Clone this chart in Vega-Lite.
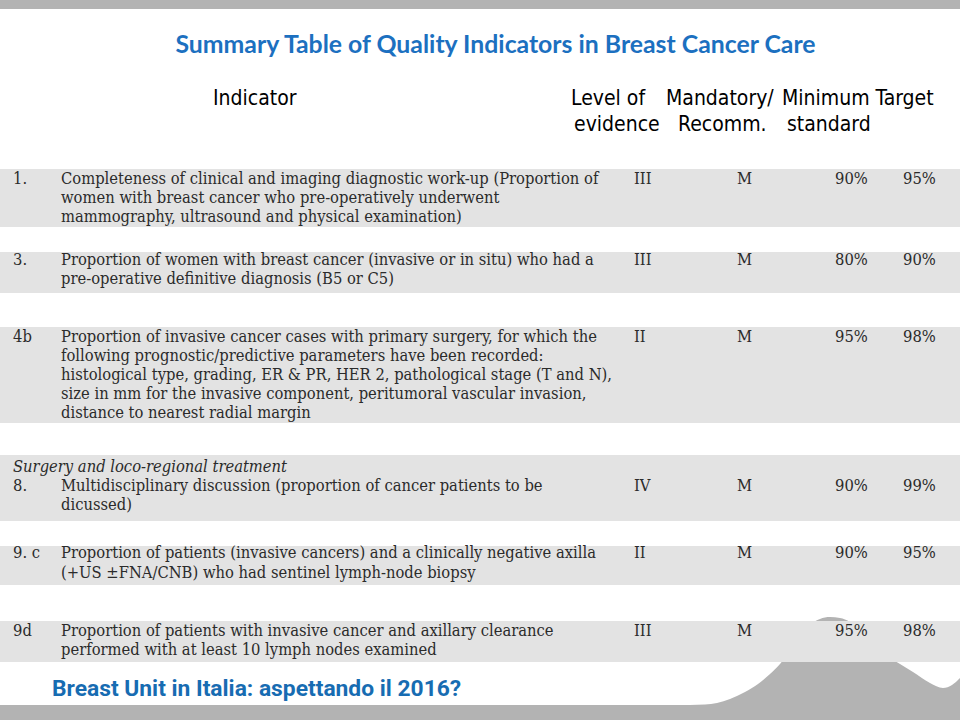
{
  "$schema": "https://vega.github.io/schema/vega-lite/v6.json",
  "width": 960,
  "height": 720,
  "autosize": {"type": "fit", "contains": "padding"},
  "padding": 0,
  "background": "#ffffff",
  "config": {"view": {"stroke": null}},
  "datasets": {
    "wave": [
      {"x": 0, "top": 705}, {"x": 690, "top": 705}, {"x": 705, "top": 704.5}, {"x": 717, "top": 703},
      {"x": 730, "top": 699}, {"x": 745, "top": 692}, {"x": 758, "top": 684}, {"x": 770, "top": 674},
      {"x": 780, "top": 664}, {"x": 790, "top": 651}, {"x": 800, "top": 637}, {"x": 810, "top": 625},
      {"x": 820, "top": 619}, {"x": 830, "top": 617}, {"x": 840, "top": 618}, {"x": 850, "top": 622},
      {"x": 860, "top": 630}, {"x": 872, "top": 642}, {"x": 885, "top": 654}, {"x": 900, "top": 664},
      {"x": 913, "top": 672}, {"x": 930, "top": 683}, {"x": 943, "top": 688}, {"x": 952, "top": 685},
      {"x": 960, "top": 678}
    ],
    "bands": [
      {"item": "1.", "top": 3, "bottom": 7},
      {"item": "3.", "top": 8, "bottom": 11},
      {"item": "4b", "top": 12, "bottom": 18},
      {"item": "8.", "top": 19, "bottom": 23},
      {"item": "9. c", "top": 24, "bottom": 27},
      {"item": "9d", "top": 28, "bottom": 31}
    ],
    "cells": [
      {"item": "1.", "col": 2, "line": 4, "text": "1."},
      {"item": "1.", "col": 4, "line": 4, "text": "Completeness of clinical and imaging diagnostic work-up (Proportion of"},
      {"item": "1.", "col": 4, "line": 5, "text": "women with breast cancer who pre-operatively underwent"},
      {"item": "1.", "col": 4, "line": 6, "text": "mammography, ultrasound and physical examination)"},
      {"item": "1.", "col": 9, "line": 4, "text": "III"},
      {"item": "1.", "col": 12, "line": 4, "text": "M"},
      {"item": "1.", "col": 15, "line": 4, "text": "90%"},
      {"item": "1.", "col": 16, "line": 4, "text": "95%"},
      {"item": "3.", "col": 2, "line": 9, "text": "3."},
      {"item": "3.", "col": 4, "line": 9, "text": "Proportion of women with breast cancer (invasive or in situ) who had a"},
      {"item": "3.", "col": 4, "line": 10, "text": "pre-operative definitive diagnosis (B5 or C5)"},
      {"item": "3.", "col": 9, "line": 9, "text": "III"},
      {"item": "3.", "col": 12, "line": 9, "text": "M"},
      {"item": "3.", "col": 15, "line": 9, "text": "80%"},
      {"item": "3.", "col": 16, "line": 9, "text": "90%"},
      {"item": "4b", "col": 2, "line": 13, "text": "4b"},
      {"item": "4b", "col": 4, "line": 13, "text": "Proportion of invasive cancer cases with primary surgery, for which the"},
      {"item": "4b", "col": 4, "line": 14, "text": "following prognostic/predictive parameters have been recorded:"},
      {"item": "4b", "col": 4, "line": 15, "text": "histological type, grading, ER & PR, HER 2, pathological stage (T and N),"},
      {"item": "4b", "col": 4, "line": 16, "text": "size in mm for the invasive component, peritumoral vascular invasion,"},
      {"item": "4b", "col": 4, "line": 17, "text": "distance to nearest radial margin"},
      {"item": "4b", "col": 9, "line": 13, "text": "II"},
      {"item": "4b", "col": 12, "line": 13, "text": "M"},
      {"item": "4b", "col": 15, "line": 13, "text": "95%"},
      {"item": "4b", "col": 16, "line": 13, "text": "98%"},
      {"item": "8.", "col": 2, "line": 21, "text": "8."},
      {"item": "8.", "col": 4, "line": 21, "text": "Multidisciplinary discussion (proportion of cancer patients to be"},
      {"item": "8.", "col": 4, "line": 22, "text": "dicussed)"},
      {"item": "8.", "col": 9, "line": 21, "text": "IV"},
      {"item": "8.", "col": 12, "line": 21, "text": "M"},
      {"item": "8.", "col": 15, "line": 21, "text": "90%"},
      {"item": "8.", "col": 16, "line": 21, "text": "99%"},
      {"item": "9. c", "col": 2, "line": 25, "text": "9. c"},
      {"item": "9. c", "col": 4, "line": 25, "text": "Proportion of patients (invasive cancers) and a clinically negative axilla"},
      {"item": "9. c", "col": 4, "line": 26, "text": "(+US ±FNA/CNB) who had sentinel lymph-node biopsy"},
      {"item": "9. c", "col": 9, "line": 25, "text": "II"},
      {"item": "9. c", "col": 12, "line": 25, "text": "M"},
      {"item": "9. c", "col": 15, "line": 25, "text": "90%"},
      {"item": "9. c", "col": 16, "line": 25, "text": "95%"},
      {"item": "9d", "col": 2, "line": 29, "text": "9d"},
      {"item": "9d", "col": 4, "line": 29, "text": "Proportion of patients with invasive cancer and axillary clearance"},
      {"item": "9d", "col": 4, "line": 30, "text": "performed with at least 10 lymph nodes examined"},
      {"item": "9d", "col": 9, "line": 29, "text": "III"},
      {"item": "9d", "col": 12, "line": 29, "text": "M"},
      {"item": "9d", "col": 15, "line": 29, "text": "95%"},
      {"item": "9d", "col": 16, "line": 29, "text": "98%"}
    ],
    "section": [
      {"col": 2, "line": 20, "text": "Surgery and loco-regional treatment"}
    ],
    "headers": [
      {"col": 5, "line": 1, "text": "Indicator"},
      {"col": 7, "line": 1, "text": "Level of"},
      {"col": 8, "line": 2, "text": "evidence"},
      {"col": 10, "line": 1, "text": "Mandatory/"},
      {"col": 11, "line": 2, "text": "Recomm."},
      {"col": 13, "line": 1, "text": "Minimum Target"},
      {"col": 14, "line": 2, "text": "standard"}
    ],
    "title": [
      {"col": 6, "line": 0, "text": "Summary Table of Quality Indicators in Breast Cancer Care"}
    ],
    "footer": [
      {"col": 3, "line": 32, "text": "Breast Unit in Italia: aspettando il 2016?"}
    ]
  },
  "layer": [
    {
      "layer": [
        {
          "data": {"values": [{}]},
          "mark": {"type": "rect", "color": "#b3b3b3"},
          "encoding": {
            "x": {"datum": 0, "type": "quantitative", "scale": {"domain": [0, 960], "range": [0, 960], "nice": false, "zero": false}, "axis": null},
            "x2": {"datum": 960},
            "y": {"datum": 0, "type": "quantitative", "scale": {"domain": [0, 720], "range": [0, 720], "nice": false, "zero": false}, "axis": null},
            "y2": {"datum": 9}
          }
        },
        {
          "data": {"name": "wave"},
          "mark": {"type": "area", "color": "#b3b3b3", "interpolate": "monotone", "opacity": 1},
          "encoding": {
            "x": {"field": "x", "type": "quantitative", "scale": {"domain": [0, 960], "range": [0, 960], "nice": false, "zero": false}, "axis": null},
            "y": {"field": "top", "type": "quantitative", "scale": {"domain": [0, 720], "range": [0, 720], "nice": false, "zero": false}, "axis": null},
            "y2": {"datum": 720}
          }
        }
      ]
    },
    {
      "data": {"name": "bands"},
      "mark": {"type": "rect", "color": "#e3e3e3"},
      "encoding": {
        "y": {"field": "top", "type": "quantitative", "axis": null,
          "scale": {"domain": [0, 1, 2, 3, 4, 5, 6, 7, 8, 9, 10, 11, 12, 13, 14, 15, 16, 17, 18, 19, 20, 21, 22, 23, 24, 25, 26, 27, 28, 29, 30, 31, 32],
                    "range": [46, 99, 125, 169, 179, 198, 217, 227, 252, 260, 279, 293, 327, 337, 356, 375, 394, 413, 423, 455, 467, 486, 505, 521, 546, 553, 573, 585, 621, 631, 650, 662, 689],
                    "nice": false, "zero": false}},
        "y2": {"field": "bottom"}
      }
    },
    {
      "encoding": {
        "x": {"field": "col", "type": "quantitative", "axis": null,
          "scale": {"domain": [0, 1, 2, 3, 4, 5, 6, 7, 8, 9, 10, 11, 12, 13, 14, 15, 16, 17],
                    "range": [0, 2, 13, 52, 61, 213, 495.5, 571, 574, 634, 666, 678, 737, 782, 787, 835, 903, 958],
                    "nice": false, "zero": false}},
        "y": {"field": "line", "type": "quantitative", "axis": null,
          "scale": {"domain": [0, 1, 2, 3, 4, 5, 6, 7, 8, 9, 10, 11, 12, 13, 14, 15, 16, 17, 18, 19, 20, 21, 22, 23, 24, 25, 26, 27, 28, 29, 30, 31, 32],
                    "range": [46, 99, 125, 169, 179, 198, 217, 227, 252, 260, 279, 293, 327, 337, 356, 375, 394, 413, 423, 455, 467, 486, 505, 521, 546, 553, 573, 585, 621, 631, 650, 662, 689],
                    "nice": false, "zero": false}}
      },
      "layer": [
        {
          "data": {"name": "cells"},
          "mark": {"type": "text", "align": "left", "baseline": "middle", "font": "'DejaVu Serif Condensed', 'DejaVu Serif'", "fontSize": 16.4, "color": "#2b2b2b"},
          "encoding": {"text": {"field": "text"}}
        },
        {
          "data": {"name": "section"},
          "mark": {"type": "text", "align": "left", "baseline": "middle", "font": "'DejaVu Serif Condensed', 'DejaVu Serif'", "fontStyle": "italic", "fontSize": 16.4, "color": "#2b2b2b"},
          "encoding": {"text": {"field": "text"}}
        },
        {
          "data": {"name": "headers"},
          "mark": {"type": "text", "align": "left", "baseline": "middle", "font": "'DejaVu Sans Condensed', 'Liberation Sans', sans-serif", "fontSize": 21, "color": "#000000"},
          "encoding": {"text": {"field": "text"}}
        },
        {
          "data": {"name": "title"},
          "mark": {"type": "text", "align": "center", "baseline": "middle", "font": "Lato", "fontWeight": "bold", "fontSize": 24.8, "color": "#1c70c0"},
          "encoding": {"text": {"field": "text"}}
        },
        {
          "data": {"name": "footer"},
          "mark": {"type": "text", "align": "left", "baseline": "middle", "font": "Roboto", "fontWeight": "bold", "fontSize": 22.8, "color": "#176cb2"},
          "encoding": {"text": {"field": "text"}}
        }
      ]
    }
  ],
  "resolve": {"scale": {"x": "independent", "y": "independent"}}
}
